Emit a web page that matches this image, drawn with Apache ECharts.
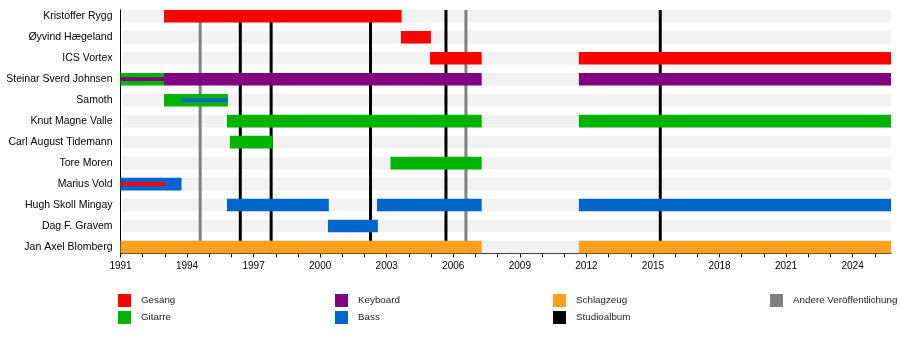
<!DOCTYPE html>
<html>
<head>
<meta charset="utf-8">
<script src="https://cdn.jsdelivr.net/npm/echarts@6/dist/echarts.min.js"></script>
<style>
html,body{margin:0;padding:0;background:#fff;}
#chart{width:900px;height:342px;}
</style>
</head>
<body>
<div id="chart"></div>
<script>
// ---- data ----
const members = ['Kristoffer Rygg','Øyvind Hægeland','ICS Vortex','Steinar Sverd Johnsen','Samoth','Knut Magne Valle','Carl August Tidemann','Tore Moren','Marius Vold','Hugh Skoll Mingay','Dag F. Gravem','Jan Axel Blomberg'];
const tickLabels = [1991,1994,1997,2000,2003,2006,2009,2012,2015,2018,2021,2024];
const yearTicks = [1991,1992,1993,1994,1995,1996,1997,1998,1999,2000,2001,2002,2003,2004,2005,2006,2007,2008,2009,2010,2011,2012,2013,2014,2015,2016,2017,2018,2019,2020,2021,2022,2023,2024,2025];
const startYear = 1991;
const endYear = 2025.73;
// [member index, from, to]
const gesang = [[0,1992.96,2003.67],[1,2003.64,2004.99],[2,2004.95,2007.28],[2,2011.66,2025.73]];
const gesangMinor = [[8,1991,1993.03]];
const gitarre = [[3,1991,1992.96],[4,1992.96,1995.84],[5,1995.8,2007.28],[5,2011.66,2025.73],[6,1995.93,1997.83],[7,2003.17,2007.28]];
const keyboard = [[3,1992.96,2007.28],[3,2011.66,2025.73]];
const keyboardMinor = [[3,1991,1992.96]];
const bass = [[8,1991,1993.75],[9,1995.8,2000.39],[9,2002.56,2007.28],[9,2011.66,2025.73],[10,2000.35,2002.6]];
const bassMinor = [[4,1993.72,1995.84]];
const schlagzeug = [[11,1991,2007.28],[11,2011.66,2025.73]];
const studioalben = [1996.40,1997.79,2002.27,2005.67,2015.33];
const andereVeroeffentlichungen = [1994.59,2006.57];

// ---- styles ----
const COLORS = {
  Gesang:'#ff0000', Gitarre:'#00b300', Keyboard:'#800080', Bass:'#0066cc',
  Schlagzeug:'#ffa020', Studioalbum:'#000000', Andere:'#808080'
};
const Y_MIN = -0.3, Y_MAX = members.length - 1 + 0.3;
const HALF = 0.3, HALF_MINOR = 0.09;

function rangeSeries(name, data, color, half, z) {
  return {
    type:'custom', name:name, z:z, itemStyle:{color:color},
    data:data, encode:{x:[1,2], y:0},
    renderItem:function(params, api){
      const r = api.value(0), s = api.value(1), e = api.value(2);
      const p0 = api.coord([s, r - half]);
      const p1 = api.coord([e, r + half]);
      return {type:'rect', shape:{x:p0[0], y:p0[1], width:p1[0]-p0[0], height:p1[1]-p0[1]}, style:{fill:color}};
    }
  };
}
function lineSeries(name, data, color, z) {
  return {
    type:'custom', name:name, z:z, itemStyle:{color:color},
    data:data.map(v=>[v]), encode:{x:0},
    renderItem:function(params, api){
      const x = api.value(0);
      const p0 = api.coord([x, Y_MIN]);
      const p1 = api.coord([x, Y_MAX]);
      return {type:'line', shape:{x1:p0[0], y1:p0[1], x2:p1[0], y2:p1[1]}, style:{stroke:color, lineWidth:3}};
    }
  };
}
const bgSeries = {
  type:'custom', name:'bg', z:1, silent:true,
  data:members.map((m,i)=>[i]), encode:{y:0},
  renderItem:function(params, api){
    const r = api.value(0);
    const p0 = api.coord([startYear, r - HALF]);
    const p1 = api.coord([endYear, r + HALF]);
    return {type:'rect', shape:{x:p0[0]+2, y:p0[1], width:p1[0]-p0[0]-2, height:p1[1]-p0[1]}, style:{fill:'#f2f2f2'}};
  }
};

const legendText = {fontFamily:"'Liberation Sans',Arial,sans-serif", fontSize:9.8, color:'#222', padding:[0,0,0,5]};
function legendAt(left, names) {
  return {show:true, orient:'vertical', left:left, top:294, padding:0, itemGap:4, itemWidth:13, itemHeight:13,
    icon:'rect', selectedMode:false, textStyle:legendText, data:names};
}

const chart = echarts.init(document.getElementById('chart'), null, {renderer:'canvas'});
chart.setOption({
  animation:false,
  backgroundColor:'#fff',
  grid:{left:120.5, right:9, top:10, bottom:88.7, containLabel:false},
  xAxis:{
    type:'value', min:startYear, max:endYear,
    splitLine:{show:false},
    axisLine:{show:true, onZero:false, lineStyle:{color:'#000', width:1}},
    axisTick:{show:true, length:4, lineStyle:{color:'#000'}, customValues:yearTicks},
    axisLabel:{customValues:tickLabels, formatter:v=>String(v), margin:8, color:'#000',
      fontFamily:"'Liberation Sans',Arial,sans-serif", fontSize:10}
  },
  yAxis:{
    type:'value', inverse:true, min:Y_MIN, max:Y_MAX,
    splitLine:{show:false},
    axisLine:{show:true, onZero:false, lineStyle:{color:'#000', width:1}},
    axisTick:{show:false},
    axisLabel:{customValues:members.map((m,i)=>i), formatter:v=>members[Math.round(v)]||'', margin:8, color:'#000',
      fontFamily:"'Liberation Sans',Arial,sans-serif", fontSize:10.5}
  },
  legend:[
    legendAt(118, ['Gesang','Gitarre']),
    legendAt(335, ['Keyboard','Bass']),
    legendAt(553, ['Schlagzeug','Studioalbum']),
    legendAt(770, ['Andere Veröffentlichung'])
  ],
  series:[
    bgSeries,
    lineSeries('Studioalbum', studioalben, COLORS.Studioalbum, 3),
    lineSeries('Andere Veröffentlichung', andereVeroeffentlichungen, COLORS.Andere, 3),
    rangeSeries('Gesang', gesang, COLORS.Gesang, HALF, 5),
    rangeSeries('Gitarre', gitarre, COLORS.Gitarre, HALF, 5),
    rangeSeries('Keyboard', keyboard, COLORS.Keyboard, HALF, 5),
    rangeSeries('Bass', bass, COLORS.Bass, HALF, 5),
    rangeSeries('Schlagzeug', schlagzeug, COLORS.Schlagzeug, HALF, 5),
    rangeSeries('Gesang (Nebenrolle)', gesangMinor, COLORS.Gesang, HALF_MINOR, 6),
    rangeSeries('Keyboard (Nebenrolle)', keyboardMinor, COLORS.Keyboard, HALF_MINOR, 6),
    rangeSeries('Bass (Nebenrolle)', bassMinor, COLORS.Bass, HALF_MINOR, 6)
  ]
});
</script>
</body>
</html>
